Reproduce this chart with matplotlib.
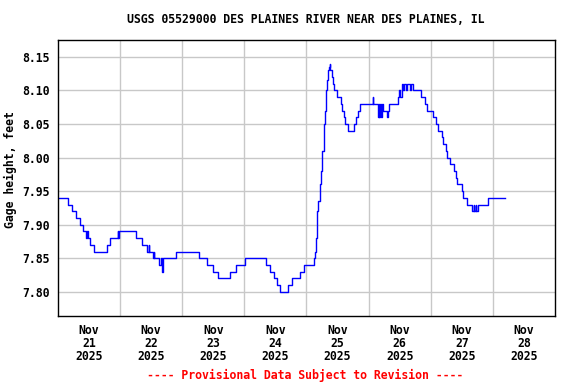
import matplotlib
matplotlib.use("Agg")
import matplotlib.pyplot as plt
import pandas as pd

# gage height change points: hours after 2025-11-21 00:00, value in feet
hours = [0.0, 4.0, 5.5, 6.8, 8.5, 9.8, 11.0, 11.2, 11.6, 12.5, 14.0,
         19.0, 20.0, 23.0, 23.3, 23.6, 30.0, 32.3, 34.3, 35.0, 35.3,
         36.6, 36.9, 37.2, 39.2, 39.7, 40.1, 40.7,
         45.6, 54.6, 57.7, 60.0, 62.0, 66.5, 68.8, 72.1, 80.2, 81.9,
         83.5, 84.6, 85.8, 89.0, 90.4, 93.3, 95.1, 98.9,
         99.3, 99.7, 100.2, 100.6, 101.1, 101.5, 101.9, 102.7, 103.2,
         103.6, 103.8, 104.2, 104.6, 104.9, 105.1, 105.8, 106.2, 106.8,
         107.9, 109.3, 109.9, 110.3, 110.9, 112.0, 114.5, 115.2, 115.8,
         116.7, 121.6, 121.8, 123.7, 123.9, 124.2, 124.4, 124.8, 125.0,
         125.6, 127.1, 127.3, 127.7, 131.4, 131.8, 132.2, 132.8,
         133.4, 133.6, 134.6, 134.8, 136.0, 136.2, 137.3,
         140.2, 141.6, 142.5, 144.9, 146.1, 146.8, 148.3, 148.8, 149.8,
         150.3, 151.5, 152.8, 153.7, 154.3, 156.0, 156.6, 157.9,
         160.1, 160.6, 160.9, 161.3, 161.6, 162.3, 166.2, 172.6]
gage = [7.94, 7.93, 7.92, 7.91, 7.90, 7.89, 7.88, 7.89, 7.88, 7.87, 7.86,
        7.87, 7.88, 7.89, 7.88, 7.89, 7.88, 7.87, 7.86, 7.87, 7.86,
        7.85, 7.86, 7.85, 7.84, 7.85, 7.83, 7.85,
        7.86, 7.85, 7.84, 7.83, 7.82, 7.83, 7.84, 7.85, 7.84, 7.83,
        7.82, 7.81, 7.80, 7.81, 7.82, 7.83, 7.84, 7.85,
        7.86, 7.88, 7.92, 7.935, 7.96, 7.98, 8.01, 8.05, 8.07,
        8.10, 8.115, 8.13, 8.135, 8.14, 8.13, 8.12, 8.11, 8.10,
        8.09, 8.08, 8.07, 8.06, 8.05, 8.04, 8.05, 8.06, 8.07,
        8.08, 8.09, 8.08, 8.06, 8.08, 8.06, 8.08, 8.06, 8.08,
        8.07, 8.06, 8.07, 8.08, 8.09, 8.10, 8.09, 8.11,
        8.10, 8.11, 8.10, 8.11, 8.10, 8.11, 8.10,
        8.09, 8.08, 8.07, 8.06, 8.05, 8.04, 8.03, 8.02, 8.01,
        8.00, 7.99, 7.98, 7.97, 7.96, 7.95, 7.94, 7.93,
        7.92, 7.93, 7.92, 7.93, 7.92, 7.93, 7.94, 7.94]

start = pd.Timestamp("2025-11-21")
day_labels = ["Nov\n21\n2025", "Nov\n22\n2025", "Nov\n23\n2025", "Nov\n24\n2025",
              "Nov\n25\n2025", "Nov\n26\n2025", "Nov\n27\n2025", "Nov\n28\n2025"]
y_ticks = [7.80, 7.85, 7.90, 7.95, 8.00, 8.05, 8.10, 8.15]

times = start + pd.to_timedelta(hours, unit="h")

font = {"family": "DejaVu Sans Mono", "weight": "bold", "size": 8.3}

fig = plt.figure(figsize=(5.76, 3.84), dpi=100)
ax = fig.add_axes([0.1007, 0.177, 0.8628, 0.7188])

ax.plot(times, gage, color="#0000ff", linewidth=1.0, drawstyle="steps-post")

ax.set_xlim(start, start + pd.Timedelta(days=8))
ax.set_ylim(7.764, 8.175)

midnights = [start + pd.Timedelta(days=i) for i in range(1, 8)]
noons = [start + pd.Timedelta(hours=12 + 24 * i) for i in range(8)]
ax.set_xticks(midnights)
ax.set_xticklabels([])
ax.set_xticks(noons, minor=True)
ax.set_xticklabels(day_labels, minor=True, fontdict=font, linespacing=1.0)
ax.tick_params(axis="x", which="both", length=0, pad=6)

ax.set_yticks(y_ticks)
ax.set_yticklabels([f"{v:.2f}" for v in y_ticks], fontdict=font)
ax.tick_params(axis="y", length=0, pad=6)

ax.grid(True, which="major", color="#c8c8c8", linewidth=1.0)
ax.set_axisbelow(True)
for s in ax.spines.values():
    s.set_linewidth(1.0)
    s.set_color("black")

ax.set_ylabel("Gage height, feet", fontdict=font)
ax.yaxis.set_label_coords(-0.082, 0.53)
fig.text(0.53, 0.95, "USGS 05529000 DES PLAINES RIVER NEAR DES PLAINES, IL",
         ha="center", va="center", fontdict=font)
fig.text(0.53, 0.023, "---- Provisional Data Subject to Revision ----",
         ha="center", va="center", color="red", fontdict=font)

fig.savefig("out.png", dpi=100)
